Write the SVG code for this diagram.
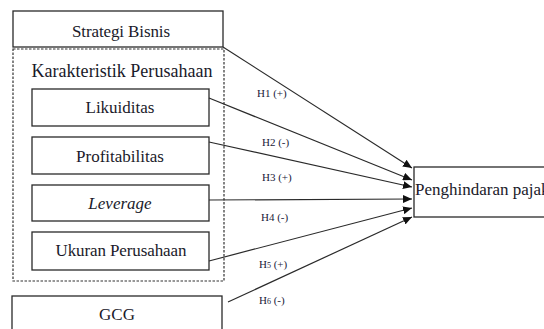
<svg xmlns="http://www.w3.org/2000/svg" width="544" height="329" viewBox="0 0 544 329">
<style>
.box{fill:#fff;stroke:#2a2a2a;stroke-width:1.3}
.dash{fill:none;stroke:#333;stroke-width:1.2;stroke-dasharray:2.5 1.5}
.t{font-size:17px;fill:#1a1a2a;text-anchor:middle}
.big{font-size:18px}
.s{font-size:17px;fill:#1a1a2a;text-anchor:start}
.h{font-size:11px;fill:#1a1a3a}
.c{stroke:#2a2a2a;stroke-width:1.2;fill:none;marker-end:url(#ah)}
</style>
<defs>
<marker id="ah" markerUnits="userSpaceOnUse" markerWidth="10" markerHeight="8" refX="9" refY="4" orient="auto">
<path d="M0,0 L9,4 L0,8 Z" fill="#111"/>
</marker>
</defs>
<rect width="544" height="329" fill="#fff"/>
<g id="strategi">
<rect class="box" x="13" y="11" width="210" height="36"/>
<text class="t" font-family="Liberation Serif" x="121" y="37" textLength="98">Strategi Bisnis</text>
</g>
<g id="karakteristik">
<rect class="dash" x="13" y="49" width="211" height="232"/>
<text class="t big" font-family="Liberation Serif" x="122" y="77" textLength="181">Karakteristik Perusahaan</text>
</g>
<g id="likuiditas">
<rect class="box" x="32" y="89" width="177" height="37"/>
<text class="t" font-family="Liberation Serif" x="120" y="113">Likuiditas</text>
</g>
<g id="profitabilitas">
<rect class="box" x="32" y="137" width="177" height="37"/>
<text class="t" font-family="Liberation Serif" x="120" y="162">Profitabilitas</text>
</g>
<g id="leverage">
<rect class="box" x="32" y="185" width="177" height="36"/>
<text class="t" font-family="Liberation Serif" x="120" y="209" font-style="italic">Leverage</text>
</g>
<g id="ukuran">
<rect class="box" x="32" y="232" width="177" height="38"/>
<text class="t" font-family="Liberation Serif" x="121" y="256" textLength="131">Ukuran Perusahaan</text>
</g>
<g id="gcg">
<rect class="box" x="12" y="296" width="210" height="40"/>
<text class="t" font-family="Liberation Serif" x="117" y="320">GCG</text>
</g>
<g id="penghindaran">
<rect class="box" x="414" y="167" width="140" height="50"/>
<text class="s" font-family="Liberation Serif" x="415" y="195">Penghindaran pajak</text>
</g>
<g id="connectors">
<line class="c" x1="223" y1="47" x2="412" y2="168"/>
<line class="c" x1="209" y1="98" x2="412" y2="180"/>
<line class="c" x1="209" y1="142" x2="412" y2="187"/>
<line class="c" x1="209" y1="200" x2="412" y2="199"/>
<line class="c" x1="209" y1="261" x2="412" y2="208"/>
<line class="c" x1="228" y1="302" x2="412" y2="217"/>
</g>
<g id="labels">
<text class="h" font-family="Liberation Serif" x="257" y="97">H1 (+)</text>
<text class="h" font-family="Liberation Serif" x="262" y="146">H2 (-)</text>
<text class="h" font-family="Liberation Serif" x="262" y="181">H3 (+)</text>
<text class="h" font-family="Liberation Serif" x="261" y="221">H4 (-)</text>
<text class="h" font-family="Liberation Serif" x="259" y="268">H<tspan font-size="8">5</tspan> (+)</text>
<text class="h" font-family="Liberation Serif" x="259" y="304">H<tspan font-size="8">6</tspan> (-)</text>
</g>
</svg>
